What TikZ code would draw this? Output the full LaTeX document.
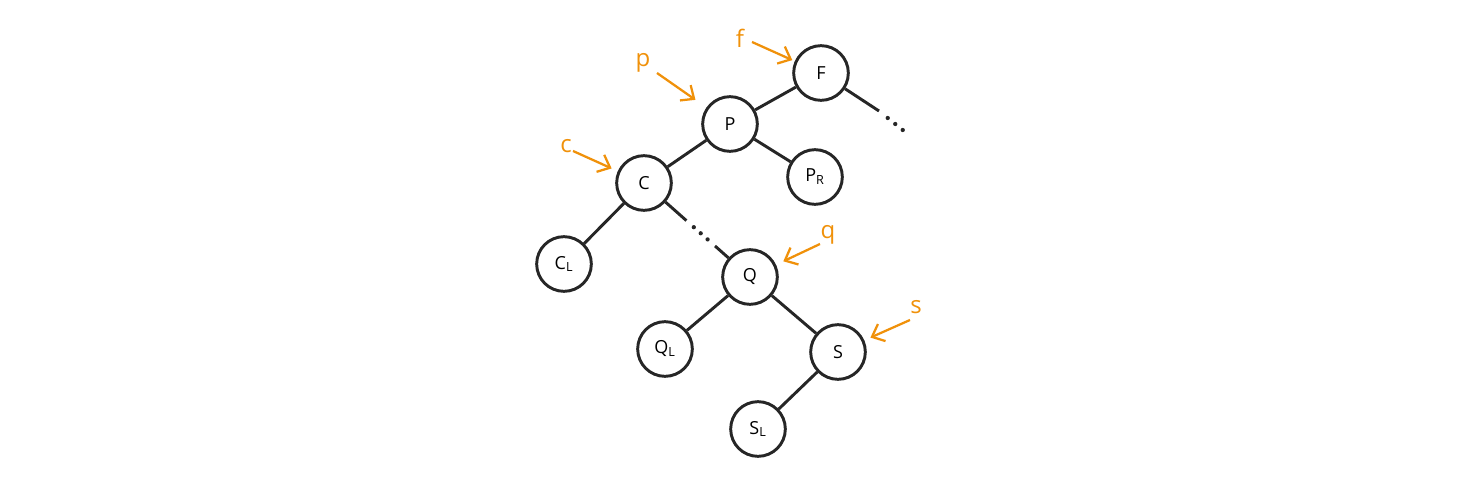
\documentclass[tikz,border=0pt]{standalone}
\usepackage{fontspec}
\setmainfont{Open Sans}
\usepackage{xcolor}
\usetikzlibrary{arrows.meta}
\usetikzlibrary{calc}
\definecolor{ptrorange}{RGB}{240,145,10}

\tikzset{
  tnode/.style={circle, draw=black!85, line width=2.2pt, minimum size=41pt, inner sep=0pt, font=\fontsize{13.5}{15}\selectfont},
  edge/.style={black!85, line width=2.2pt},
  ptr/.style={ptrorange, line width=1.7pt, -{Straight Barb[length=8pt,width=14pt]}},
  ptrlbl/.style={ptrorange, font=\fontsize{18}{20}\selectfont}
}

\begin{document}
\begin{tikzpicture}[x=0.75pt,y=-0.75pt]
\useasboundingbox (0,0) rectangle (1461,478);

\node [tnode] (F) at (821,73) {F};
\node [tnode] (P) at (730,124) {P};
\node [tnode] (C) at (644,183) {C};
\node [tnode] (PR) at (815,177) {P\textsubscript{R}};
\node [tnode] (CL) at (564,264) {C\textsubscript{L}};
\node [tnode] (Q) at (750,277) {Q};
\node [tnode] (QL) at (665,349) {Q\textsubscript{L}};
\node [tnode] (S) at (838,352) {S};
\node [tnode] (SL) at (758,429) {S\textsubscript{L}};

\draw [edge] (P) -- (F);
\draw [edge] (P) -- (C);
\draw [edge] (P) -- (PR);
\draw [edge] (C) -- (CL);
\draw [edge] (Q) -- (QL);
\draw [edge] (Q) -- (S);
\draw [edge] (S) -- (SL);

\coordinate (Fend) at (879,111);
\draw [edge] (F) -- (Fend);
\foreach \t in {0.35,0.65,0.95}
  \fill [black!85] ($(Fend)!\t!(904,131)$) circle (1.6pt);

\draw [edge] (C) -- ($(C)!.4!(Q)$);
\foreach \t in {.47,.535,.60}
  \fill [black!85] ($(C)!\t!(Q)$) circle (1.6pt);
\draw [edge] ($(C)!.67!(Q)$) -- (Q);

\node [ptrlbl] (f) at (740,38) {f};
\node [ptrlbl] (p) at (643,63) {p};
\node [ptrlbl] (c) at (566,146) {c};
\node [ptrlbl] (q) at (828,235) {q};
\node [ptrlbl] (s) at (916,307) {s};

\coordinate (fs) at (752,42);
\coordinate (ps) at (657,73);
\coordinate (cs) at (573,151);
\coordinate (qs) at (820,244);
\coordinate (ss) at (910,320);

\draw [ptr, shorten >=2pt] (fs) -- (F);
\draw [ptr, shorten >=10pt] (ps) -- (P);
\draw [ptr, shorten >=5pt] (cs) -- (C);
\draw [ptr, shorten >=6pt] (qs) -- (Q);
\draw [ptr, shorten >=5pt] (ss) -- (S);
\end{tikzpicture}
\end{document}
